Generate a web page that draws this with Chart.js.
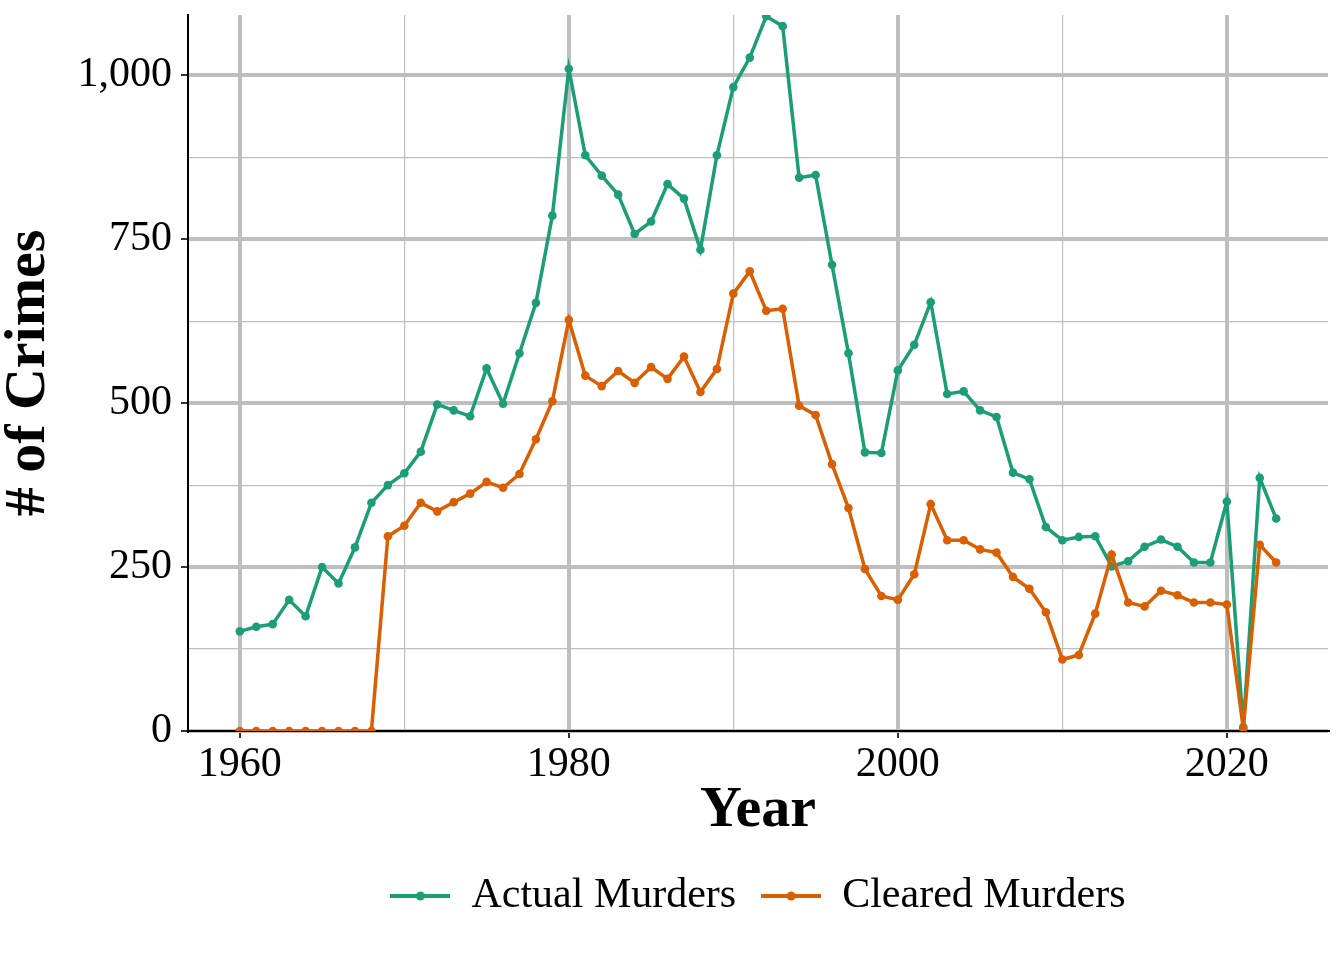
<!DOCTYPE html>
<html><head><meta charset="utf-8">
<script src="https://cdn.jsdelivr.net/npm/chart.js@4.4.1/dist/chart.umd.min.js"></script>
<style>html,body{margin:0;padding:0;background:#fff}#wrap{width:1344px;height:960px;position:relative}</style>
</head><body><div id="wrap"><canvas id="c" width="1344" height="960"></canvas></div>
<script>
const years = [1960,1961,1962,1963,1964,1965,1966,1967,1968,1969,
  1970,1971,1972,1973,1974,1975,1976,1977,1978,1979,
  1980,1981,1982,1983,1984,1985,1986,1987,1988,1989,
  1990,1991,1992,1993,1994,1995,1996,1997,1998,1999,
  2000,2001,2002,2003,2004,2005,2006,2007,2008,2009,
  2010,2011,2012,2013,2014,2015,2016,2017,2018,2019,
  2020,2021,2022,2023];
const actualMurders = [152,159,163,200,175,250,225,280,348,375,
  393,426,498,489,480,553,499,576,653,786,
  1010,878,847,818,758,777,834,812,734,878,
  982,1027,1090,1075,844,848,711,576,425,424,
  550,589,654,514,518,489,479,394,384,311,
  291,296,297,251,259,281,292,281,257,257,
  350,6,386,324];
const clearedMurders = [0,0,0,0,0,0,0,0,0,297,
  313,348,335,349,362,380,371,392,445,503,
  627,542,526,549,531,555,537,571,517,552,
  667,701,641,644,496,482,407,340,247,206,
  200,239,346,291,291,277,272,235,217,181,
  109,116,179,269,196,190,214,207,196,196,
  193,4,284,257];
const seriesNames = ['Actual Murders','Cleared Murders'];
const seriesColors = ['#1B9E77','#D95F02'];
const xMajorTicks = [1960,1980,2000,2020];
const yMajorTicks = [0,250,500,750,1000];

const FONT = "'Liberation Serif','Times New Roman',serif";
function keyImage(color){
  const c = document.createElement('canvas'); c.width = 60; c.height = 20;
  const g = c.getContext('2d');
  g.strokeStyle = color; g.lineWidth = 4;
  g.beginPath(); g.moveTo(0,10); g.lineTo(60,10); g.stroke();
  g.fillStyle = color; g.beginPath(); g.arc(30,10,4.5,0,Math.PI*2); g.fill();
  return c;
}
const toXY = arr => years.map((y,i)=>({x:y,y:arr[i]}));
const datasets = [actualMurders, clearedMurders].map((arr,i)=>({
  label: seriesNames[i], data: toXY(arr),
  borderColor: seriesColors[i], backgroundColor: seriesColors[i],
  borderWidth: 3.5, pointRadius: 4.3, pointBorderWidth: 0, pointHoverRadius: 4.3,
  tension: 0, pointStyle: 'circle', legendImg: keyImage(seriesColors[i]),
  order: 1 - i
}));

new Chart(document.getElementById('c'), {
  type: 'line',
  data: { datasets },
  options: {
    responsive: false, animation: false,
    layout: { padding: { top: 15, right: 16, left: 0, bottom: 33 } },
    plugins: {
      tooltip: { enabled: false },
      legend: {
        position: 'bottom', fullSize: false,
        labels: {
          usePointStyle: true, pointStyleWidth: 60, padding: 25,
          font: { family: FONT, size: 42 }, color: '#000',
          generateLabels: (chart) => chart.data.datasets.map((d,i)=>({
            text: d.label, pointStyle: d.legendImg, fillStyle: d.borderColor,
            strokeStyle: d.borderColor, lineWidth: 0, hidden: false, datasetIndex: i,
            fontColor: '#000'
          }))
        }
      }
    },
    scales: {
      x: {
        type: 'linear', min: 1956.85, max: 2026.15,
        ticks: { stepSize: 10, includeBounds: false, autoSkip: false, maxRotation: 0,
          padding: 2, color: '#000', font: { family: FONT, size: 42 },
          callback: v => xMajorTicks.includes(v) ? String(v) : '' },
        grid: { color: '#BEBEBE', lineWidth: c => (c.tick && xMajorTicks.includes(c.tick.value)) ? 4 : 1.2,
          tickLength: 7, tickWidth: 2,
          tickColor: c => (c.tick && xMajorTicks.includes(c.tick.value)) ? '#333' : 'rgba(0,0,0,0)' },
        border: { display: true, color: '#000', width: 2 },
        title: { display: true, text: 'Year', color: '#000', padding: { top: 0, bottom: 10 },
          font: { family: FONT, size: 58, weight: 'bold', lineHeight: 1 } },
        afterFit: s => { s.height = 119; s.paddingLeft = 0; s.paddingRight = 0; }
      },
      y: {
        type: 'linear', min: 0, max: 1092,
        ticks: { stepSize: 125, includeBounds: false, autoSkip: false, padding: 9, color: '#000',
          font: { family: FONT, size: 42 },
          callback: v => yMajorTicks.includes(v) ? v.toLocaleString('en-US') : '' },
        grid: { color: '#BEBEBE', lineWidth: c => (c.tick && yMajorTicks.includes(c.tick.value)) ? 4 : 1.2,
          tickLength: 7, tickWidth: 2,
          tickColor: c => (c.tick && yMajorTicks.includes(c.tick.value)) ? '#333' : 'rgba(0,0,0,0)' },
        border: { display: true, color: '#000', width: 2 },
        title: { display: true, text: '# of Crimes', color: '#000', padding: { top: 0, bottom: 0 },
          font: { family: FONT, size: 58, weight: 'bold', lineHeight: 1 } },
        afterFit: s => { s.width = 188; s.paddingTop = 0; s.paddingBottom = 0; }
      }
    }
  }
});
</script></body></html>
